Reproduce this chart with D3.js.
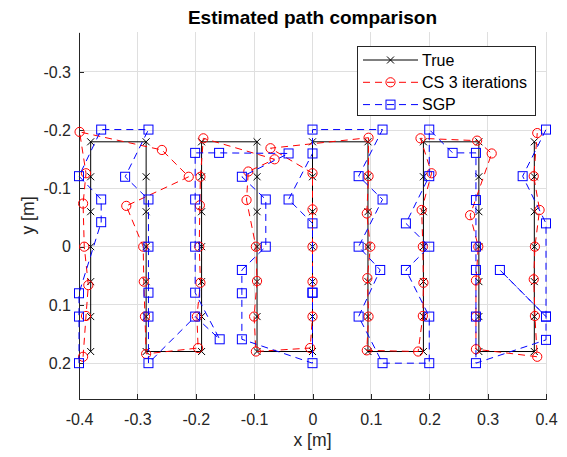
<!DOCTYPE html>
<html>
<head>
<meta charset="utf-8">
<script src="https://cdn.jsdelivr.net/npm/d3@7"></script>
<style>
  body { margin: 0; background: #fff; }
  svg { display: block; font-family: "Liberation Sans", Arial, Helvetica, sans-serif; }
</style>
</head>
<body>
<svg></svg>
<script>
// true grid path (serpentine, column by column)
const trueX = [
  -0.38, -0.38, -0.38, -0.38, -0.38, -0.38, -0.38,
  -0.285, -0.285, -0.285, -0.285, -0.285, -0.285, -0.285,
  -0.19, -0.19, -0.19, -0.19, -0.19, -0.19, -0.19,
  -0.095, -0.095, -0.095, -0.095, -0.095, -0.095, -0.095,
  0, 0, 0, 0, 0, 0, 0,
  0.095, 0.095, 0.095, 0.095, 0.095, 0.095, 0.095,
  0.19, 0.19, 0.19, 0.19, 0.19, 0.19, 0.19,
  0.285, 0.285, 0.285, 0.285, 0.285, 0.285, 0.285,
  0.38, 0.38, 0.38, 0.38, 0.38, 0.38, 0.38
];
const trueY = [
  0.18, 0.12, 0.06, 0, -0.06, -0.12, -0.18,
  -0.18, -0.12, -0.06, 0, 0.06, 0.12, 0.18,
  0.18, 0.12, 0.06, 0, -0.06, -0.12, -0.18,
  -0.18, -0.12, -0.06, 0, 0.06, 0.12, 0.18,
  0.18, 0.12, 0.06, 0, -0.06, -0.12, -0.18,
  -0.18, -0.12, -0.06, 0, 0.06, 0.12, 0.18,
  0.18, 0.12, 0.06, 0, -0.06, -0.12, -0.18,
  -0.18, -0.12, -0.06, 0, 0.06, 0.12, 0.18,
  0.18, 0.12, 0.06, 0, -0.06, -0.12, -0.18
];

// CS 3 iterations estimate
const csX = [
  -0.393, -0.388, -0.384, -0.391, -0.393, -0.388, -0.399,
  -0.258, -0.212, -0.319, -0.290, -0.289, -0.287, -0.285,
  -0.196, -0.198, -0.192, -0.194, -0.193, -0.192, -0.187,
  -0.065, -0.110, -0.113, -0.097, -0.095, -0.100, -0.097,
  -0.004, 0.000, 0.000, 0.000, 0.000, 0.000, -0.072,
  0.096, 0.096, 0.093, 0.099, 0.094, 0.096, 0.093,
  0.181, 0.189, 0.190, 0.189, 0.187, 0.204, 0.185,
  0.282, 0.307, 0.270, 0.284, 0.280, 0.280, 0.280,
  0.385, 0.381, 0.379, 0.381, 0.389, 0.379, 0.385
];
const csY = [
  0.189, 0.119, 0.066, 0.000, -0.074, -0.126, -0.197,
  -0.166, -0.120, -0.070, 0.000, 0.060, 0.120, 0.184,
  0.174, 0.120, 0.062, 0.000, -0.071, -0.120, -0.186,
  -0.150, -0.129, -0.080, 0.000, 0.059, 0.120, 0.180,
  0.174, 0.120, 0.060, 0.000, -0.064, -0.126, -0.169,
  -0.187, -0.121, -0.057, 0.000, 0.054, 0.120, 0.178,
  0.180, 0.119, 0.062, 0.000, -0.063, -0.126, -0.186,
  -0.182, -0.160, -0.054, 0.000, 0.058, 0.120, 0.176,
  0.189, 0.119, 0.056, 0.000, -0.063, -0.121, -0.195
];

// SGP estimate
const sgpX = [
  -0.400, -0.400, -0.400, -0.362, -0.362, -0.400, -0.362,
  -0.281, -0.321, -0.281, -0.281, -0.281, -0.281, -0.281,
  -0.201, -0.159, -0.201, -0.201, -0.201, -0.201, -0.160,
  -0.041, -0.121, -0.080, -0.080, -0.121, -0.121, -0.121,
  0.000, 0.000, 0.000, 0.000, -0.041, 0.000, 0.000,
  0.120, 0.079, 0.120, 0.079, 0.116, 0.079, 0.120,
  0.200, 0.200, 0.160, 0.200, 0.160, 0.200, 0.200,
  0.240, 0.280, 0.280, 0.280, 0.280, 0.280, 0.280,
  0.400, 0.400, 0.321, 0.400, 0.400, 0.360, 0.400
];
const sgpY = [
  0.200, 0.120, 0.080, -0.042, -0.081, -0.121, -0.201,
  -0.201, -0.120, -0.081, 0.000, 0.079, 0.120, 0.200,
  0.120, 0.159, 0.079, 0.000, -0.081, -0.161, -0.161,
  -0.160, -0.120, -0.081, 0.000, 0.040, 0.080, 0.159,
  0.200, 0.079, 0.079, -0.040, -0.081, -0.160, -0.201,
  -0.201, -0.121, -0.081, 0.000, 0.040, 0.120, 0.200,
  0.200, 0.120, 0.040, 0.000, -0.040, -0.121, -0.201,
  -0.161, -0.161, -0.080, 0.000, 0.040, 0.120, 0.200,
  0.160, 0.120, 0.040, 0.120, -0.040, -0.121, -0.201
];

const xTicks = [-0.4, -0.3, -0.2, -0.1, 0, 0.1, 0.2, 0.3, 0.4];
const xTickLabels = ["-0.4", "-0.3", "-0.2", "-0.1", "0", "0.1", "0.2", "0.3", "0.4"];
const yTicks = [-0.3, -0.2, -0.1, 0, 0.1, 0.2];
const yTickLabels = ["-0.3", "-0.2", "-0.1", "0", "0.1", "0.2"];

const seriesNames = ["True", "CS 3 iterations", "SGP"];

const width = 567;
const height = 457;
const margin = { top: 32, right: 21, bottom: 58, left: 79 };
const plotW = width - margin.left - margin.right;
const plotH = height - margin.top - margin.bottom;

const svg = d3.select("svg")
    .attr("width", width)
    .attr("height", height);

svg.append("rect").attr("width", width).attr("height", height).attr("fill", "#fff");

// axis equal, y reversed (MATLAB 'axis ij')
const x = d3.scaleLinear().domain([-0.4, 0.4]).range([0, plotW]);
const y = d3.scaleLinear().domain([-0.3685, 0.2615]).range([0, plotH]);

const g = svg.append("g")
    .attr("transform", `translate(${margin.left},${margin.top})`);

// grid
g.append("g")
    .selectAll("line")
    .data(xTicks)
    .enter().append("line")
    .attr("x1", d => x(d)).attr("x2", d => x(d))
    .attr("y1", 0).attr("y2", plotH)
    .attr("stroke", "#dfdfdf").attr("stroke-width", 1)
    .attr("shape-rendering", "crispEdges");

g.append("g")
    .selectAll("line")
    .data(yTicks)
    .enter().append("line")
    .attr("x1", 0).attr("x2", plotW)
    .attr("y1", d => y(d)).attr("y2", d => y(d))
    .attr("stroke", "#dfdfdf").attr("stroke-width", 1)
    .attr("shape-rendering", "crispEdges");

// axes (ticks pointing inward)
const xAxis = g.append("g")
    .attr("transform", `translate(0,${plotH})`)
    .call(d3.axisBottom(x)
        .tickValues(xTicks)
        .tickSizeInner(-5)
        .tickSizeOuter(0)
        .tickPadding(13)
        .tickFormat((d, i) => xTickLabels[i]));

const yAxis = g.append("g")
    .call(d3.axisLeft(y)
        .tickValues(yTicks)
        .tickSizeInner(-5)
        .tickSizeOuter(0)
        .tickPadding(13)
        .tickFormat((d, i) => yTickLabels[i]));

[xAxis, yAxis].forEach(a => {
    a.select(".domain").attr("stroke", "#262626").attr("shape-rendering", "crispEdges");
    a.selectAll(".tick line").attr("stroke", "#262626").attr("shape-rendering", "crispEdges");
    a.selectAll(".tick text")
        .attr("fill", "#262626")
        .style("font-size", "16px")
        .style("font-family", "\"Liberation Sans\", Arial, sans-serif");
});
yAxis.selectAll(".tick text").attr("x", -8);
xAxis.selectAll(".tick text").attr("y", 15);

// paths
const toPts = (xs, ys) => xs.map((v, i) => [v, ys[i]]);
const truePts = toPts(trueX, trueY);
const csPts = toPts(csX, csY);
const sgpPts = toPts(sgpX, sgpY);

const line = d3.line().x(d => x(d[0])).y(d => y(d[1]));

const xMark = "M-3.5,-3.5L3.5,3.5M-3.5,3.5L3.5,-3.5";

// True
g.append("path")
    .datum(truePts)
    .attr("d", line)
    .attr("fill", "none")
    .attr("stroke", "#000")
    .attr("stroke-width", 1);
g.append("g").selectAll("path")
    .data(truePts)
    .enter().append("path")
    .attr("d", xMark)
    .attr("transform", d => `translate(${x(d[0])},${y(d[1])})`)
    .attr("stroke", "#000")
    .attr("stroke-width", 1)
    .attr("fill", "none");

// CS 3 iterations
g.append("path")
    .datum(csPts)
    .attr("d", line)
    .attr("fill", "none")
    .attr("stroke", "#ff0000")
    .attr("stroke-width", 1)
    .attr("stroke-dasharray", "7,5");
g.append("g").selectAll("circle")
    .data(csPts)
    .enter().append("circle")
    .attr("cx", d => x(d[0]))
    .attr("cy", d => y(d[1]))
    .attr("r", 4.6)
    .attr("fill", "none")
    .attr("stroke", "#ff0000")
    .attr("stroke-width", 1);

// SGP
g.append("path")
    .datum(sgpPts)
    .attr("d", line)
    .attr("fill", "none")
    .attr("stroke", "#0000ff")
    .attr("stroke-width", 1)
    .attr("stroke-dasharray", "7,5");
g.append("g").selectAll("rect")
    .data(sgpPts)
    .enter().append("rect")
    .attr("x", d => x(d[0]) - 4.5)
    .attr("y", d => y(d[1]) - 4.5)
    .attr("width", 9)
    .attr("height", 9)
    .attr("fill", "none")
    .attr("stroke", "#0000ff")
    .attr("stroke-width", 1);

// title and labels
svg.append("text")
    .attr("x", margin.left + plotW / 2)
    .attr("y", 24)
    .attr("text-anchor", "middle")
    .style("font-size", "19px")
    .style("font-weight", "bold")
    .attr("fill", "#000")
    .text("Estimated path comparison");

svg.append("text")
    .attr("x", margin.left + plotW / 2)
    .attr("y", 446)
    .attr("text-anchor", "middle")
    .style("font-size", "17.6px")
    .attr("fill", "#262626")
    .text("x [m]");

svg.append("text")
    .attr("transform", `translate(34,${margin.top + plotH / 2}) rotate(-90)`)
    .attr("text-anchor", "middle")
    .style("font-size", "17.6px")
    .attr("fill", "#262626")
    .text("y [m]");

// legend
const legend = svg.append("g").attr("transform", "translate(357,46)");
legend.append("rect")
    .attr("width", 178).attr("height", 69)
    .attr("fill", "#fff")
    .attr("stroke", "#262626")
    .attr("stroke-width", 1)
    .attr("shape-rendering", "crispEdges");

const legColors = ["#000", "#ff0000", "#0000ff"];
const legDash = [null, "7,5", "7,5"];
seriesNames.forEach((name, i) => {
    const row = legend.append("g").attr("transform", `translate(0,${14 + i * 22.3})`);
    row.append("line")
        .attr("x1", 6).attr("x2", 61)
        .attr("stroke", legColors[i])
        .attr("stroke-width", 1)
        .attr("stroke-dasharray", legDash[i]);
    if (i === 0) {
        row.append("path").attr("d", xMark).attr("transform", "translate(33.5,0)")
            .attr("stroke", "#000").attr("fill", "none");
    } else if (i === 1) {
        row.append("circle").attr("cx", 33.5).attr("cy", 0).attr("r", 4.6)
            .attr("fill", "none").attr("stroke", "#ff0000");
    } else {
        row.append("rect").attr("x", 29).attr("y", -4.5).attr("width", 9).attr("height", 9)
            .attr("fill", "none").attr("stroke", "#0000ff");
    }
    row.append("text")
        .attr("x", 65)
        .attr("dy", "0.35em")
        .style("font-size", "16px")
        .attr("fill", "#000")
        .text(name);
});
</script>
</body>
</html>
